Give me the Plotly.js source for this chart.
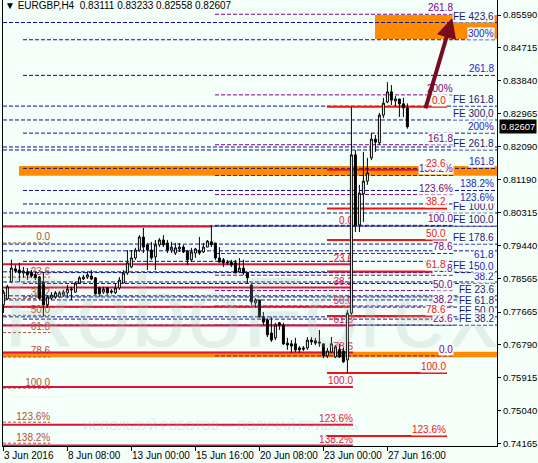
<!DOCTYPE html>
<html><head><meta charset="utf-8">
<script src="https://cdn.plot.ly/plotly-3.0.1.min.js"></script>
<style>html,body{margin:0;padding:0;background:#F5FFFA;}#chart{width:538px;height:463px;}</style>
</head><body><div id="chart"></div>
<script>
// ---- candles (bar index 0 = 3 Jun 2016 16:00, H4) ----
const barIndex = Array.from({length:102},(_, i) => i);
const open = [0.7786,0.7802,0.7847,0.7882,0.7879,0.7871,0.7874,0.7871,0.7866,0.7860,
0.7847,0.7786,0.7804,0.7807,0.7807,0.7812,0.7818,0.7828,0.7820,0.7844,
0.7855,0.7860,0.7863,0.7858,0.7831,0.7820,0.7831,0.7823,0.7818,0.7831,
0.7844,0.7871,0.7887,0.7911,0.7932,0.7967,0.7946,0.7932,0.7914,0.7946,
0.7959,0.7951,0.7932,0.7924,0.7935,0.7940,0.7930,0.7906,0.7924,0.7930,
0.7927,0.7940,0.7954,0.7951,0.7911,0.7906,0.7900,0.7900,0.7898,0.7874,
0.7884,0.7871,0.7839,0.7791,0.7799,0.7754,0.7746,0.7711,0.7698,0.7738,
0.7732,0.7684,0.7682,0.7682,0.7671,0.7671,0.7671,0.7692,0.7690,0.7687,
0.7682,0.7650,0.7660,0.7647,0.7666,0.7663,0.7639,0.7764,0.8186,0.7999,
0.8082,0.8116,0.8178,0.8228,0.8218,0.8292,0.8327,0.8354,0.8330,0.8335,
0.8322,0.83111];
const high = [0.7826,0.7839,0.7906,0.7892,0.7898,0.7887,0.7884,0.7879,0.7874,0.7863,
0.7871,0.7812,0.7820,0.7823,0.7823,0.7826,0.7839,0.7834,0.7847,0.7863,
0.7866,0.7874,0.7879,0.7860,0.7834,0.7834,0.7834,0.7828,0.7844,0.7860,
0.7879,0.7932,0.7932,0.7938,0.7972,0.7991,0.7951,0.7954,0.7959,0.7964,
0.7972,0.7959,0.7954,0.7951,0.7951,0.7946,0.7932,0.7938,0.7938,0.7967,
0.7951,0.7959,0.7999,0.7951,0.7940,0.7911,0.7906,0.7906,0.7906,0.7911,
0.7906,0.7874,0.7842,0.7804,0.7799,0.7767,0.7751,0.7754,0.7738,0.7740,
0.7738,0.7698,0.7692,0.7698,0.7676,0.7676,0.7700,0.7700,0.7698,0.7719,
0.7682,0.7671,0.7700,0.7679,0.7682,0.7671,0.7772,0.8314,0.8199,0.8106,
0.8194,0.8178,0.8244,0.8239,0.8298,0.8338,0.8380,0.8372,0.8343,0.8335,
0.8338,0.83233];
const low = [0.7764,0.7799,0.7844,0.7871,0.7847,0.7858,0.7852,0.7858,0.7852,0.7799,
0.7754,0.7778,0.7799,0.7802,0.7804,0.7807,0.7804,0.7799,0.7818,0.7842,
0.7852,0.7855,0.7852,0.7812,0.7807,0.7815,0.7812,0.7815,0.7815,0.7826,
0.7844,0.7866,0.7884,0.7906,0.7927,0.7924,0.7879,0.7906,0.7879,0.7940,
0.7940,0.7924,0.7924,0.7919,0.7927,0.7924,0.7892,0.7900,0.7911,0.7919,
0.7924,0.7940,0.7940,0.7906,0.7898,0.7887,0.7892,0.7887,0.7871,0.7874,
0.7866,0.7844,0.7786,0.7778,0.7751,0.7732,0.7700,0.7687,0.7692,0.7719,
0.7679,0.7666,0.7658,0.7660,0.7658,0.7663,0.7666,0.7679,0.7679,0.7674,
0.7644,0.7644,0.7658,0.7644,0.7644,0.7631,0.7604,0.7759,0.7980,0.7980,
0.8007,0.8106,0.8172,0.8194,0.8212,0.8284,0.8324,0.8319,0.8316,0.8287,
0.8287,0.82558];
const close = [0.7820,0.7834,0.7884,0.7876,0.7871,0.7876,0.7866,0.7863,0.7858,0.7804,
0.7786,0.7807,0.7812,0.7818,0.7818,0.7820,0.7828,0.7826,0.7844,0.7858,
0.7860,0.7866,0.7855,0.7815,0.7815,0.7828,0.7818,0.7820,0.7831,0.7852,
0.7871,0.7898,0.7911,0.7932,0.7967,0.7940,0.7932,0.7911,0.7946,0.7959,
0.7946,0.7932,0.7940,0.7938,0.7940,0.7927,0.7906,0.7927,0.7935,0.7924,
0.7940,0.7956,0.7946,0.7911,0.7900,0.7898,0.7898,0.7892,0.7871,0.7884,
0.7871,0.7858,0.7794,0.7799,0.7754,0.7740,0.7706,0.7692,0.7732,0.7732,
0.7682,0.7679,0.7676,0.7666,0.7666,0.7668,0.7692,0.7687,0.7684,0.7684,
0.7650,0.7663,0.7682,0.7674,0.7647,0.7634,0.7764,0.8186,0.7999,0.8084,
0.8116,0.8138,0.8228,0.8220,0.8292,0.8324,0.8354,0.8332,0.8335,0.8322,
0.8311,0.82607];

// ---- axes ----
const xTickBars = [0,16,32,48,64,80,96];
const xTickText = ['3 Jun 2016','8 Jun 08:00','13 Jun 00:00','15 Jun 16:00','20 Jun 08:00','23 Jun 00:00','27 Jun 16:00'];
const yTickVals = [0.85590,0.84715,0.83840,0.82965,0.82090,0.81190,0.80315,0.79440,0.78565,0.77665,0.76790,0.75915,0.75040,0.74165];
const xRange = [-0.1, 123.4];
const yRange = [0.74095, 0.8599];

// ---- Fibonacci objects (price levels, labels, bar spans) ----
const r1Levels = [0.7995,0.7894,0.7832,0.7781,0.7731,0.7659,0.7567,0.7466,0.7411];
const r1Labels = ['0.0','23.6','38.2','50.0','61.8','78.6','100.0','123.6%','138.2%'];
const r1Start = -0.1;
const r1End = [52.2,87.4,87.4,87.4,87.4,87.4,87.4,87.4,87.4];
const r1LabelBar = 87.4;

const r2Levels = [0.8314,0.8146,0.8043,0.7959,0.7875,0.7756,0.7604,0.7436];
const r2Labels = ['0.0','23.6','38.2','50.0','61.8','78.6','100.0','123.6%'];
const r2Start = 80.9, r2End = 110.9;

const pLevels = [0.7650,0.7732,0.7783,0.7824,0.7865,0.7923,0.7998,0.8080,0.8131,0.8213,0.8346,0.8561];
const pLabels = ['0.0','23.6','38.2','50.0','61.8','78.6','100.0','123.6%','138.2%','161.8','200%','261.8'];
const pStart = 52.9, pEnd = 112.9, pLabelBar = 112.6;

const nLevels = [0.7748,0.7807,0.7843,0.7872,0.7902,0.7996,0.8055,0.8091,0.8150,0.8244,0.8398,0.8493];
const nLabels = ['','','38.2','50.0','61.8','','123.6%','138.2%','161.8','200%','261.8','300%'];
const nStart = 4.9;

const feLevels = [0.8539,0.8316,0.8279,0.8207,0.8199,0.8031,0.7996,0.7948,0.7930,0.7874,0.7847,0.7810,0.7799,0.7780,0.7754,0.7732];
const feLabels = ['FE 423,6','FE 161.8','FE 300,0','','FE 261.8','FE 100.0','FE 100.0','FE 178.6','','FE 150.0','','FE 23.6','','FE 61.8','FE 50.0','FE 38.2'];
const feStart = -0.1;

const lLevels = [0.7951,0.7860,0.7803,0.7758,0.7712,0.7647,0.7564,0.7473,0.7417];
const lLabels = ['0.0','23.6','38.2','50.0','61.8','78.6','100.0','123.6%','138.2%'];
const lStart = -0.1, lEnd = 11.7;

const rightLabelBar = 122.9;

// orange zones
const zoneX0 = [92.9, 3.9, -0.1];
const zoneX1 = [123.4, 123.4, 123.4];
const zoneY0 = [0.8495, 0.8130, 0.7646];
const zoneY1 = [0.8559, 0.8156, 0.7661];

// forecast arrow
const arrowFrom = [105.4, 0.8306];
const arrowTo = [112.2, 0.8551];

const lastPrice = 0.82607;

// ---- styling ----
const BG = '#F5FFFA';
const F = 'Liberation Sans, Arial, sans-serif';
const NAVY = '#10108C', BLUE = '#2323C8', PURPLE = '#800080', CRIMSON = '#DC143C', RED = '#F01515', BROWN = '#B0503A', FENAVY = '#1A1A70';

function segs(levels, x0, x1){
  const xs=[], ys=[];
  levels.forEach((v,i)=>{
    const a = Array.isArray(x0)?x0[i]:x0, b = Array.isArray(x1)?x1[i]:x1;
    xs.push(a,b,null); ys.push(v,v,null);
  });
  return {xs, ys};
}
function lineTrace(levels, x0, x1, color, width, dash){
  const s = segs(levels, x0, x1);
  return {type:'scatter', mode:'lines', x:s.xs, y:s.ys, xaxis:'x', yaxis:'y',
    line:{color, width, dash}, hoverinfo:'skip', showlegend:false, connectgaps:false};
}
function textTrace(levels, labels, xb, color){
  return {type:'scatter', mode:'text', x:levels.map(()=>xb), y:levels, text:labels,
    textposition:'top left', textfont:{family:F, size:10, color}, hoverinfo:'skip', showlegend:false};
}
function labelAnns(levels, labels, xb, color){
  const out=[];
  levels.forEach((v,i)=>{ if(!labels[i]) return;
    out.push({x:xb, y:v, xref:'x', yref:'y', text:labels[i], showarrow:false,
      xanchor:'right', yanchor:'bottom', font:{family:F, size:10, color}, bgcolor:BG, borderpad:0});
  });
  return out;
}

const traces = [
  lineTrace(pLevels, pStart, pEnd, PURPLE, 1, '4px,2px'),
  lineTrace(nLevels, nStart, xRange[1], NAVY, 1, '4px,2px'),
  lineTrace(feLevels, feStart, xRange[1], NAVY, 1, '4px,2px'),
  lineTrace(lLevels, lStart, lEnd, BROWN, 1, '3px,2px'),
  lineTrace(r1Levels, r1Start, r1End, CRIMSON, 2, 'solid'),
  lineTrace(r2Levels, r2Start, r2End, RED, 2, 'solid'),
  textTrace(r1Levels, r1Labels, r1LabelBar, CRIMSON),
  textTrace(lLevels, lLabels, lEnd, BROWN),
  {type:'candlestick', x:barIndex, open, high, low, close, xaxis:'x2', yaxis:'y2',
   increasing:{line:{color:'#000', width:1}, fillcolor:'#FFFFFF'},
   decreasing:{line:{color:'#000', width:1}, fillcolor:'#000000'},
   whiskerwidth:0, hoverinfo:'skip', showlegend:false}
];

const shapes = zoneX0.map((x0,i)=>({type:'rect', xref:'x', yref:'y', x0, x1:zoneX1[i], y0:zoneY0[i], y1:zoneY1[i],
  fillcolor:'#FF8C00', line:{width:0}, layer:'below'}));

const xTickAnns = xTickBars.map((b,i)=>({xref:'x', yref:'paper', x:b, y:0, xanchor:'left', yanchor:'top', yshift:-2, xshift:-1,
  text:xTickText[i], showarrow:false, font:{family:F, size:10, color:'#000'}}));

const annotations = [
  {xref:'paper', yref:'paper', x:0.5, y:0.17, text:'RoboForex', showarrow:false,
   font:{family:'Liberation Sans Narrow, Liberation Sans, sans-serif', size:100, color:'rgba(160,185,178,0.22)'}},
  {xref:'paper', yref:'paper', x:0.723, y:0.025, text:'ИСПОЛЬЗУЙ РОБОТОВ — ПОЛУЧАЙ ПРИБЫЛЬ', showarrow:false,
   font:{family:F, size:12, color:'rgba(160,185,178,0.3)'}},
  ...labelAnns(feLevels, feLabels, rightLabelBar, FENAVY),
  ...labelAnns(nLevels, nLabels, rightLabelBar, BLUE),
  ...labelAnns(pLevels, pLabels, pLabelBar, PURPLE),
  ...labelAnns(r2Levels, r2Labels, r2End, RED),
  ...xTickAnns,
  {xref:'paper', x:1, xanchor:'left', xshift:2, yref:'y', y:lastPrice, yanchor:'middle', text:lastPrice.toFixed(5),
   showarrow:false, bgcolor:'#000', font:{family:F, size:9.5, color:'#FFF'}, borderpad:1},
  {xref:'x', yref:'y', axref:'x', ayref:'y', x:arrowTo[0], y:arrowTo[1], ax:arrowFrom[0], ay:arrowFrom[1],
   text:'', showarrow:true, arrowhead:2, arrowsize:1, arrowwidth:4, arrowcolor:'#7A0A1E', standoff:0}
];

const layout = {
  width:538, height:463, autosize:false,
  margin:{l:3, r:41, t:0, b:17, pad:0},
  paper_bgcolor:BG, plot_bgcolor:BG, showlegend:false,
  title:{text:'▼ EURGBP,H4\u00a0\u00a00.83111 0.83233 0.82558 0.82607', x:5/538, xanchor:'left', y:1-2/463, yanchor:'top',
    font:{family:F, size:10, color:'#000'}},
  xaxis:{range:xRange, tickvals:xTickBars, ticktext:xTickText, showticklabels:false, ticks:'outside', ticklen:4, tickcolor:'#000',
    showline:true, linecolor:'#000', linewidth:1, showgrid:false, zeroline:false,
    rangeslider:{visible:false}, fixedrange:true},
  yaxis:{range:yRange, side:'right', tickvals:yTickVals, ticktext:yTickVals.map(v=>v.toFixed(5)), ticks:'outside', ticklen:3,
    tickcolor:'#000', showline:true, mirror:true, linecolor:'#000', linewidth:1, showgrid:false, zeroline:false,
    tickfont:{family:F, size:9.5, color:'#000'}, fixedrange:true},
  xaxis2:{range:xRange, overlaying:'x', visible:false, rangeslider:{visible:false}, fixedrange:true},
  yaxis2:{range:yRange, overlaying:'y', visible:false, fixedrange:true},
  shapes, annotations
};

Plotly.newPlot('chart', traces, layout, {staticPlot:true, displayModeBar:false});
</script></body></html>
